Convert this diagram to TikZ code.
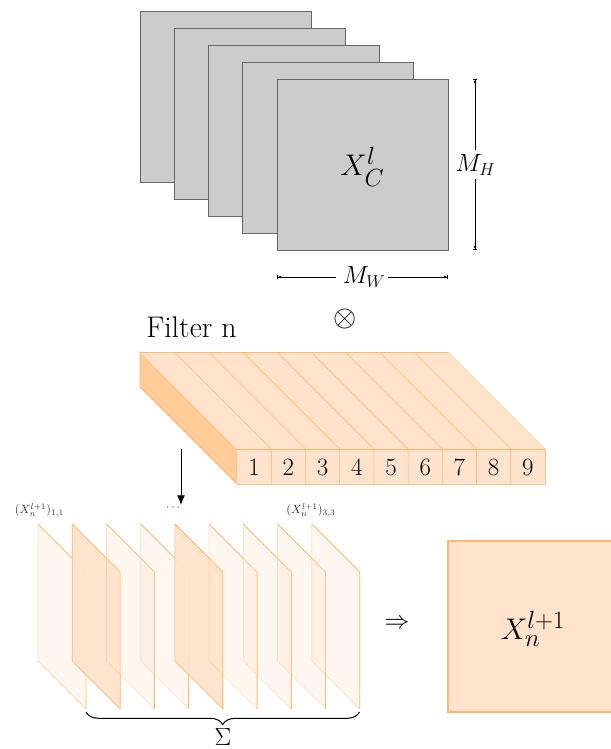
\documentclass[tikz,border=0pt]{standalone}
\usepackage{amsmath}
\usetikzlibrary{arrows.meta,decorations.pathreplacing}
\definecolor{facecol}{RGB}{255,227,204}
\definecolor{sidecol}{RGB}{255,204,153}
\definecolor{edgecol}{RGB}{255,184,112}
\tikzset{
  graysheet/.style={fill=black!20,draw=black!60,line width=0.7pt,minimum width=142.5pt,minimum height=142.5pt,inner sep=0pt,outer sep=0pt,anchor=north west},
  dimstart/.style={line width=0.6pt,{Bar[width=4pt]Latex[length=2.8pt,width=2.4pt]}-},
  dimend/.style={line width=0.6pt,-{Latex[length=2.8pt,width=2.4pt]Bar[width=4pt]}},
  cell/.style={font=\huge,inner sep=0pt},
  tinylabel/.style={font=\normalsize,text=black!80,inner sep=0pt},
}
\begin{document}
\begin{tikzpicture}[x=0.8333pt,y=-0.8333pt]
\useasboundingbox (0,0) rectangle (611,749);
\clip (0,0) rectangle (611,749);
% gray stack
\node[graysheet] (s1) at (140,11) {};
\node[graysheet] (s2) at (174.2,28) {};
\node[graysheet] (s3) at (208.4,45) {};
\node[graysheet] (s4) at (242.6,62) {};
\node[graysheet] (s5) at (277,79) {};
\node[font=\Huge,inner sep=0pt] (xc) at (362.5,167) {$X_C^l$};
\coordinate (vt) at (475,79);
\coordinate (vb) at (475,250);
\coordinate (vm1) at (475,150);
\coordinate (vm2) at (475,179);
\coordinate (hl) at (277,277);
\coordinate (hr) at (448,277);
\coordinate (hm1) at (336,277);
\coordinate (hm2) at (388,277);
\node[font=\huge,inner sep=0pt] (mh) at (475.5,165) {$M_H$};
\node[font=\huge,inner sep=0pt] (mw) at (364,277) {$M_W$};
\draw[dimstart] (vt) -- (vm1);
\draw[dimend] (vm2) -- (vb);
\draw[dimstart] (hl) -- (hm1);
\draw[dimend] (hm2) -- (hr);
\node[font=\Huge,inner sep=0pt] (otimes) at (345,319) {$\otimes$};
\node[font=\Huge,inner sep=0pt] (filter) at (191.5,327) {Filter n};
% filter block
\fill[sidecol] (140,352) -- (237,449) -- (237,484) -- (140,387) -- cycle;
\draw[edgecol,line width=0.6pt] (140,352) -- (237,449) -- (237,484) -- (140,387) -- cycle;
\fill[facecol] (140,352) -- (448,352) -- (545,449) -- (237,449) -- cycle;
\fill[facecol] (237,449) rectangle (545.5,484);
\foreach \i in {1,...,8}{
  \draw[edgecol,line width=0.5pt] ({140+34.22*\i},352) -- ({237+34.22*\i},449) -- ({237+34.22*\i},484);
}
\draw[edgecol,line width=0.7pt] (140,352) -- (448,352);
\draw[edgecol!75,line width=0.5pt] (448,352) -- (545,449);
\draw[edgecol,line width=0.7pt] (237,449) -- (545,449);
\draw[edgecol!85,line width=0.5pt] (237,484) -- (545,484) -- (545,449);
\foreach \i in {1,...,9}{
  \node[cell] (c\i) at ({237+34.22*(\i-0.5)},467) {\i};
}
\coordinate (arrs) at (181,449);
\coordinate (arre) at (181,505);
\draw[black,line width=0.8pt,-{Latex[length=8pt,width=6.5pt]}] (arrs) -- (arre);
\node[tinylabel] (l1) at (39.5,510) {$(X_n^{l+1})_{1,1}$};
\node[tinylabel] (l2) at (174,508) {$\cdots$};
\node[tinylabel] (l3) at (311,510) {$(X_n^{l+1})_{3,3}$};
% planes
\foreach \i/\op in {0/0.3,1/1,2/0.3,3/0.3,4/1,5/0.3,6/0.3,7/0.3,8/0.3}{
  \pgfmathsetmacro{\xa}{38+34.22*\i}
  \pgfmathsetmacro{\xb}{\xa+48}
  \fill[facecol,fill opacity=\op*0.95] (\xa,524) -- (\xb,572) -- (\xb,709) -- (\xa,661) -- cycle;
  \draw[edgecol,line width=0.6pt,draw opacity=\op*1.4] (\xa,524) -- (\xa,661) -- (\xb,709);
  \draw[edgecol,line width=0.75pt] (\xa,524) -- (\xb,572) -- (\xb,709);
}
\coordinate (bl) at (86,712);
\coordinate (br) at (359.5,712);
\draw[black,line width=0.85pt,decorate,decoration={brace,mirror,amplitude=10.5pt}] (bl) -- (br);
\node[font=\huge,inner sep=0pt] (sum) at (223,737) {$\Sigma$};
\node[font=\huge,inner sep=0pt] (impl) at (397,624) {$\Rightarrow$};
\draw[fill=facecol,draw=edgecol,line width=1pt] (448,541) rectangle (619,712);
\node[font=\Huge,inner sep=0pt] (xn) at (533,629) {$X_n^{l+1}$};
\end{tikzpicture}
\end{document}
